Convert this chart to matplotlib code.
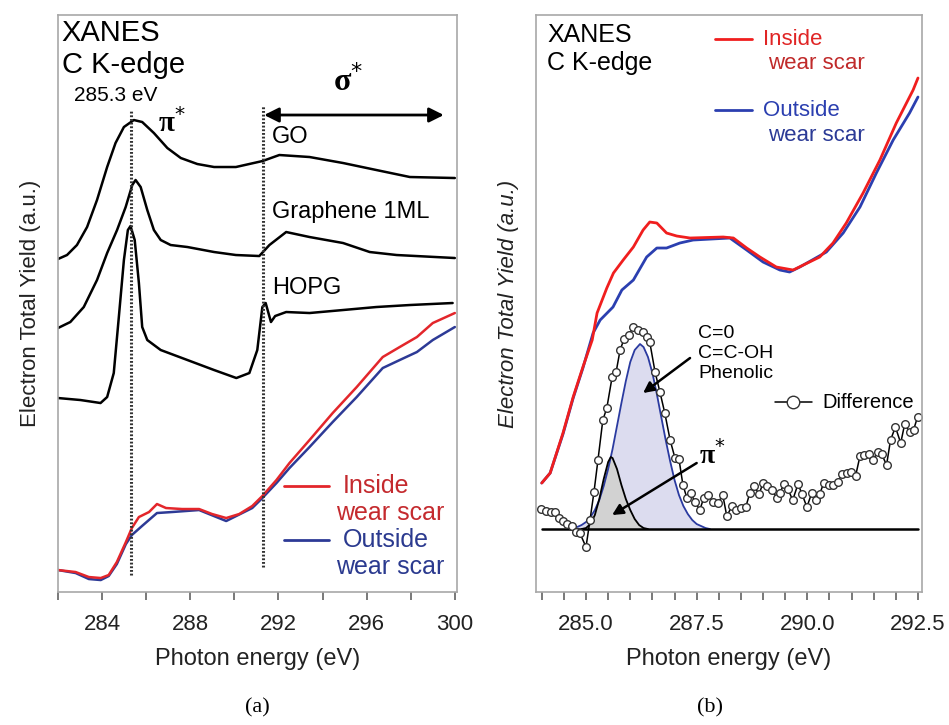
import matplotlib
matplotlib.use("Agg")
import matplotlib.pyplot as plt

# ---------------- panel (a) data ----------------
go_x = [282.0, 282.41, 282.86, 283.32, 283.77, 284.23, 284.61, 284.99, 285.44, 285.82,
        286.35, 286.96, 287.57, 288.32, 289.08, 290.07, 291.28, 292.04, 293.41,
        294.93, 296.44, 297.96, 300.0]
go_y = [3.33, 3.37, 3.47, 3.65, 3.92, 4.25, 4.49, 4.65, 4.72, 4.70,
        4.59, 4.44, 4.34, 4.28, 4.25, 4.25, 4.31, 4.37, 4.35,
        4.29, 4.22, 4.15, 4.14]

gr_x = [282.0, 282.56, 283.17, 283.77, 284.23, 284.68, 285.07, 285.37, 285.52, 285.75,
        286.05, 286.35, 286.66, 287.11, 287.87, 289.08, 290.07, 291.13, 291.59,
        292.35, 293.41, 294.93, 296.14, 297.36, 300.0]
gr_y = [2.64, 2.70, 2.85, 3.12, 3.39, 3.62, 3.85, 4.07, 4.12, 4.05,
        3.82, 3.62, 3.52, 3.47, 3.45, 3.40, 3.37, 3.36, 3.47,
        3.60, 3.55, 3.49, 3.40, 3.37, 3.34]

hopg_x = [282.0, 283.02, 283.93, 284.23, 284.53, 284.76, 284.99, 285.17, 285.29, 285.48,
          285.67, 285.82, 286.05, 286.66, 287.87, 289.08, 290.09, 290.68, 291.04,
          291.27, 291.42, 291.66, 291.85, 292.35, 293.41, 294.93, 296.44, 297.96, 299.9]
hopg_y = [1.94, 1.92, 1.89, 1.95, 2.19, 2.75, 3.32, 3.62, 3.66, 3.52,
          3.09, 2.65, 2.52, 2.42, 2.32, 2.22, 2.14, 2.19, 2.42,
          2.85, 2.89, 2.70, 2.76, 2.80, 2.79, 2.82, 2.85, 2.87, 2.89]

a_in_x = [282.0, 282.8, 283.4, 283.94, 284.3, 284.67, 285.08, 285.35, 285.67, 286.13,
          286.49, 286.9, 287.63, 288.4, 288.99, 289.63, 290.22, 290.81, 291.27,
          291.91, 292.5, 293.41, 294.46, 295.55, 296.73, 297.5, 298.28, 299.0, 300.0]
a_in_y = [0.22, 0.20, 0.15, 0.14, 0.17, 0.30, 0.50, 0.64, 0.75, 0.80,
          0.88, 0.84, 0.83, 0.83, 0.78, 0.74, 0.78, 0.86, 0.96,
          1.12, 1.29, 1.52, 1.79, 2.05, 2.35, 2.45, 2.55, 2.69, 2.79]

a_out_x = [282.0, 282.8, 283.4, 283.94, 284.3, 284.67, 285.08, 285.35, 285.81, 286.49,
           287.17, 288.4, 289.63, 290.81, 291.27, 291.91, 292.5, 293.41, 294.46,
           295.55, 296.73, 297.5, 298.28, 299.0, 300.0]
a_out_y = [0.22, 0.19, 0.13, 0.12, 0.16, 0.28, 0.48, 0.57, 0.66, 0.79,
           0.80, 0.82, 0.71, 0.84, 0.94, 1.09, 1.24, 1.45, 1.70,
           1.95, 2.24, 2.32, 2.40, 2.52, 2.65]

# ---------------- panel (b) data ----------------
b_in_x = [284.0, 284.19, 284.48, 284.71, 284.93, 285.14, 285.25, 285.47, 285.62, 285.84,
          286.07, 286.29, 286.44, 286.6, 286.82, 287.05, 287.35, 288.1, 288.33, 288.63,
          288.93, 289.3, 289.68, 289.91, 290.28, 290.58, 290.88, 291.26, 291.64,
          292.01, 292.39, 292.5]
b_in_y = [0.46, 0.56, 0.96, 1.32, 1.62, 1.89, 2.16, 2.41, 2.56, 2.69,
          2.82, 2.99, 3.07, 3.06, 2.96, 2.93, 2.91, 2.92, 2.91, 2.81,
          2.72, 2.62, 2.59, 2.64, 2.72, 2.86, 3.06, 3.36, 3.69,
          4.06, 4.39, 4.51]

b_out_x = [284.0, 284.19, 284.48, 284.71, 284.93, 285.16, 285.32, 285.61, 285.81, 286.07,
           286.37, 286.6, 286.82, 287.12, 287.42, 288.25, 288.63, 289.0, 289.38,
           289.6, 289.83, 290.43, 290.81, 291.19, 291.56, 291.94, 292.31, 292.5]
b_out_y = [0.46, 0.56, 0.95, 1.31, 1.61, 1.96, 2.09, 2.22, 2.39, 2.49,
           2.72, 2.81, 2.81, 2.86, 2.89, 2.91, 2.79, 2.67, 2.59,
           2.57, 2.62, 2.77, 2.96, 3.22, 3.56, 3.89, 4.16, 4.32]

diff_x = [283.98, 284.10, 284.21, 284.30, 284.39, 284.48, 284.57, 284.68, 284.77, 284.86,
          285.00, 285.09, 285.18, 285.27, 285.38, 285.47, 285.59, 285.68, 285.77, 285.86,
          285.97, 286.06, 286.17, 286.29, 286.38, 286.44, 286.56, 286.67, 286.78, 286.90,
          287.01, 287.10, 287.19, 287.28, 287.37, 287.46, 287.57, 287.66, 287.75, 287.87,
          287.98, 288.09, 288.18, 288.30, 288.39, 288.50, 288.61, 288.70, 288.79, 288.91,
          289.00, 289.09, 289.20, 289.31, 289.38, 289.47, 289.56, 289.67, 289.79, 289.88,
          289.99, 290.10, 290.19, 290.28, 290.37, 290.49, 290.58, 290.69, 290.78, 290.89,
          290.98, 291.09, 291.19, 291.28, 291.39, 291.48, 291.59, 291.68, 291.79, 291.88,
          291.99, 292.11, 292.20, 292.31, 292.40, 292.49]
diff_y = [0.20, 0.18, 0.17, 0.17, 0.11, 0.08, 0.05, 0.03, -0.03, -0.04,
          -0.18, 0.09, 0.37, 0.69, 1.09, 1.21, 1.52, 1.57, 1.79, 1.90,
          1.94, 2.02, 1.99, 1.97, 1.92, 1.87, 1.57, 1.37, 1.16, 0.89,
          0.71, 0.70, 0.44, 0.31, 0.36, 0.27, 0.19, 0.31, 0.34, 0.27,
          0.26, 0.34, 0.13, 0.23, 0.19, 0.21, 0.22, 0.36, 0.43, 0.35,
          0.46, 0.43, 0.39, 0.31, 0.36, 0.45, 0.40, 0.29, 0.45, 0.35,
          0.22, 0.36, 0.29, 0.35, 0.46, 0.44, 0.44, 0.47, 0.55, 0.56,
          0.57, 0.53, 0.73, 0.74, 0.75, 0.69, 0.77, 0.75, 0.64, 0.89,
          1.02, 0.86, 1.05, 0.97, 0.99, 1.12]

pi_x = [284.9, 285.0, 285.1, 285.2, 285.3, 285.4, 285.5, 285.56, 285.6, 285.7,
        285.8, 285.9, 286.0, 286.1, 286.2, 286.3, 286.4]
pi_y = [0.0, 0.01, 0.05, 0.14, 0.30, 0.50, 0.67, 0.72, 0.71, 0.60,
        0.44, 0.30, 0.19, 0.10, 0.04, 0.01, 0.0]

co_x = [284.8, 284.9, 285.0, 285.1, 285.2, 285.3, 285.4, 285.5, 285.6, 285.7, 285.8,
        285.9, 286.0, 286.1, 286.22, 286.3, 286.4, 286.5, 286.6, 286.7, 286.8,
        286.9, 287.0, 287.1, 287.2, 287.3, 287.4, 287.5, 287.6, 287.7, 287.8]
co_y = [0.02, 0.04, 0.07, 0.12, 0.19, 0.29, 0.43, 0.60, 0.80, 1.03, 1.26,
        1.48, 1.67, 1.79, 1.85, 1.82, 1.72, 1.56, 1.35, 1.12, 0.89,
        0.68, 0.49, 0.34, 0.23, 0.15, 0.09, 0.05, 0.03, 0.01, 0.0]

a_xticks = [284, 288, 292, 296, 300]
b_xticks = [285.0, 287.5, 290.0, 292.5]

RED = '#e3262b'
BLUE = '#2d3a96'
RED_T = '#c42a2e'
BLUE_T = '#2b3a8f'
SPINE = '#a8a8a8'
SERIF = ['Liberation Serif', 'DejaVu Serif']

plt.rcParams['font.family'] = ['Liberation Sans', 'DejaVu Sans']
plt.rcParams['lines.solid_joinstyle'] = 'round'
plt.rcParams['lines.solid_capstyle'] = 'round'

fig = plt.figure(figsize=(9.49, 7.25), dpi=100)
ax1 = fig.add_axes([0.0611, 0.1834, 0.4205, 0.7959])
ax2 = fig.add_axes([0.5648, 0.1834, 0.4067, 0.7959])


def style_axes(ax, major, labels, minor_step, xlim, ylim, italic_y=False):
    ax.set_xlim(*xlim)
    ax.set_ylim(*ylim)
    ax.set_yticks([])
    ax.set_xticks(major)
    ax.set_xticklabels(labels, fontsize=16, color='#222222')
    ax.xaxis.set_minor_locator(matplotlib.ticker.MultipleLocator(minor_step))
    for s in ax.spines.values():
        s.set_color(SPINE)
        s.set_linewidth(1.2)
    ax.tick_params(axis='x', which='both', direction='out', length=6,
                   width=1.1, color='#555555', pad=10)
    ax.set_xlabel('Photon energy (eV)', fontsize=17, color='#222222', labelpad=9)
    ax.set_ylabel('Electron Total Yield (a.u.)', fontsize=16, color='#222222',
                  labelpad=12, style='italic' if italic_y else 'normal')


# ---------------- panel (a) ----------------
style_axes(ax1, a_xticks, [str(t) for t in a_xticks], 2, (282, 300.1), (0, 5.77))

ax1.plot(go_x, go_y, color='black', lw=1.8)
ax1.plot(gr_x, gr_y, color='black', lw=1.8)
ax1.plot(hopg_x, hopg_y, color='black', lw=1.8)
ax1.plot(a_out_x, a_out_y, color=BLUE, lw=1.8)
ax1.plot(a_in_x, a_in_y, color=RED, lw=1.8)

ax1.plot([285.3, 285.3], [0.17, 4.82], color='#333333', lw=2.2, ls=(0, (0.6, 0.6)))
ax1.plot([291.3, 291.3], [0.25, 4.87], color='#333333', lw=2.2, ls=(0, (0.6, 0.6)))
ax1.annotate('', xy=(299.5, 4.77), xytext=(291.35, 4.77),
             arrowprops=dict(arrowstyle='<|-|>', color='black', lw=2, mutation_scale=22,
                             shrinkA=0, shrinkB=0))

ax1.text(282.17, 5.59, 'XANES', fontsize=21, va='center', ha='left')
ax1.text(282.17, 5.27, 'C K-edge', fontsize=21, va='center', ha='left')
ax1.text(282.71, 4.97, '285.3 eV', fontsize=15, va='center', ha='left')
ax1.text(287.17, 4.69, 'π$^{*}$', fontsize=21, fontweight='bold', family=SERIF,
         va='center', ha='center')
ax1.text(295.14, 5.10, 'σ$^{*}$', fontsize=23, fontweight='bold', family=SERIF,
         va='center', ha='center')
ax1.text(291.68, 4.55, 'GO', fontsize=17, va='center', ha='left')
ax1.text(291.72, 3.80, 'Graphene 1ML', fontsize=17, va='center', ha='left')
ax1.text(291.72, 3.04, 'HOPG', fontsize=17, va='center', ha='left')

ax1.plot([292.26, 294.31], [1.06, 1.06], color=RED, lw=2)
ax1.text(294.9, 1.06, 'Inside', color=RED_T, fontsize=18, va='center', ha='left')
ax1.text(294.63, 0.79, 'wear scar', color=RED_T, fontsize=18, va='center', ha='left')
ax1.plot([292.26, 294.31], [0.52, 0.52], color=BLUE, lw=2)
ax1.text(294.9, 0.52, 'Outside', color=BLUE_T, fontsize=18, va='center', ha='left')
ax1.text(294.63, 0.25, 'wear scar', color=BLUE_T, fontsize=18, va='center', ha='left')

# ---------------- panel (b) ----------------
style_axes(ax2, b_xticks, ['%.1f' % t for t in b_xticks], 0.5, (283.87, 292.59),
           (-0.63, 5.14), italic_y=True)

ax2.fill_between(co_x, co_y, 0, color='#dcdcef', lw=0)
ax2.plot(co_x, co_y, color='#2a3aa0', lw=1.3)
ax2.fill_between(pi_x, pi_y, 0, color='#d2d2d2', lw=0)
ax2.plot(pi_x, pi_y, color='black', lw=1.3)
ax2.plot([284.0, 292.5], [0, 0], color='black', lw=1.8)
ax2.plot(diff_x, diff_y, color='black', lw=1.1, marker='o', ms=5.5,
         mfc='white', mec='#333333', mew=1.0)

ax2.plot(b_out_x, b_out_y, color='#2b3fb0', lw=2)
ax2.plot(b_in_x, b_in_y, color='#f01e1e', lw=2)

ax2.text(284.12, 4.94, 'XANES', fontsize=18, va='center', ha='left')
ax2.text(284.12, 4.66, 'C K-edge', fontsize=18, va='center', ha='left')
ax2.plot([287.91, 288.75], [4.90, 4.90], color='#f01e1e', lw=2)
ax2.text(289.0, 4.90, 'Inside', color='#e02525', fontsize=16, va='center', ha='left')
ax2.text(289.11, 4.66, 'wear scar', color='#c02a2a', fontsize=16, va='center', ha='left')
ax2.plot([287.91, 288.75], [4.19, 4.19], color='#2b3fb0', lw=2)
ax2.text(289.0, 4.19, 'Outside', color='#2b3fb0', fontsize=16, va='center', ha='left')
ax2.text(289.11, 3.94, 'wear scar', color='#2b3a96', fontsize=16, va='center', ha='left')

ax2.text(287.53, 1.96, 'C=0', fontsize=14, va='center', ha='left')
ax2.text(287.53, 1.76, 'C=C-OH', fontsize=14, va='center', ha='left')
ax2.text(287.53, 1.56, 'Phenolic', fontsize=14, va='center', ha='left')
ax2.annotate('', xy=(286.29, 1.36), xytext=(287.35, 1.71),
             arrowprops=dict(arrowstyle='-|>', color='black', lw=1.8, mutation_scale=16,
                             shrinkA=0, shrinkB=0))
ax2.text(287.85, 0.74, 'π$^{*}$', fontsize=20, fontweight='bold', family=SERIF,
         va='center', ha='center')
ax2.annotate('', xy=(285.59, 0.14), xytext=(287.5, 0.66),
             arrowprops=dict(arrowstyle='-|>', color='black', lw=1.8, mutation_scale=16,
                             shrinkA=0, shrinkB=0))

ax2.plot([289.27, 290.1], [1.27, 1.27], color='black', lw=1.1)
ax2.plot([289.67], [1.27], marker='o', ms=9, mfc='white', mec='#333333', mew=1.0)
ax2.text(290.33, 1.27, 'Difference', fontsize=14.5, va='center', ha='left')

fig.text(257 / 949, 1 - 708 / 725, '(a)', family=SERIF, fontsize=16,
         ha='center', va='center')
fig.text(710 / 949, 1 - 708 / 725, '(b)', family=SERIF, fontsize=16,
         ha='center', va='center')

fig.savefig('out.png', dpi=100)
